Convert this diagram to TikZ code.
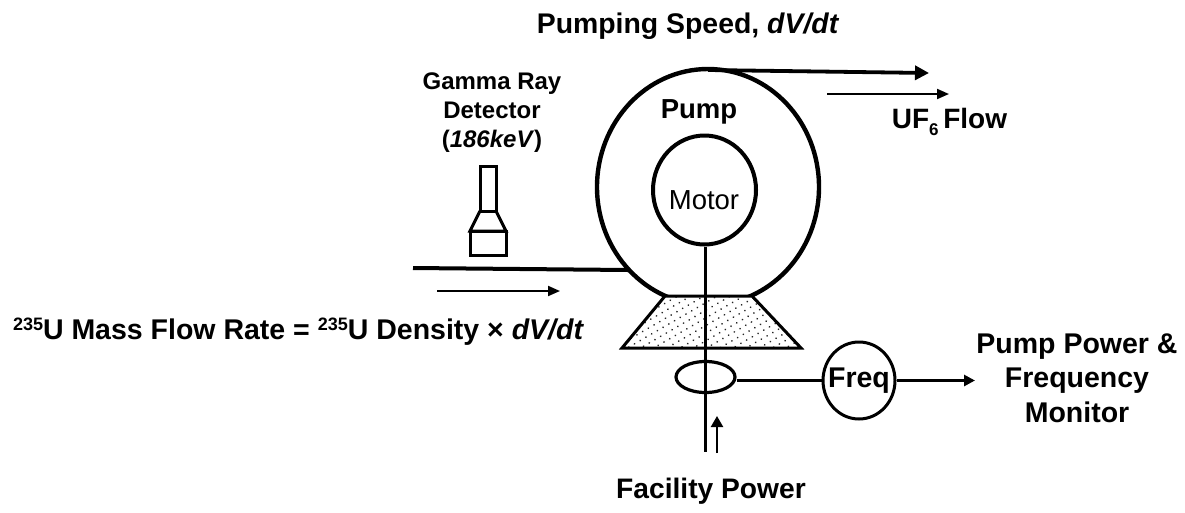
\documentclass[tikz,border=0pt]{standalone}
\usepackage{fontspec}
\setmainfont{Liberation Sans}
\usetikzlibrary{arrows.meta, patterns.meta, shapes.geometric}
\newcommand{\isoMark}{\raisebox{9pt}{\fontsize{18}{18}\selectfont 235}}
\tikzset{
  labelBold/.style={font=\fontsize{#1}{#1}\selectfont\bfseries, inner sep=0pt, align=center},
  ringNode/.style={draw, ellipse, inner sep=0pt},
  flowArrow/.style={-{Triangle[length=12pt, width=10pt]}, line width=2pt}
}

\begin{document}
\begin{tikzpicture}[x=1pt, y=-1pt]
                \useasboundingbox (0,0) rectangle (1185,512);
                
                % Pump body and outlet
                \node[ringNode, line width=4.4pt, minimum width=222pt, minimum height=236pt] (pump) at (708,187) {};
                \node[labelBold=27.5] (pumpLabel) at (699,112) {Pump};
                \coordinate (outletStart) at (708,70);
                \coordinate (outletEnd) at (929,73);
                \draw[-{Triangle[length=14pt, width=14pt]}, line width=3.8pt] (outletStart) -- (outletEnd);
                
                % Base under the pump
                \coordinate (baseA) at (665,296);
                \coordinate (baseB) at (752,296);
                \coordinate (baseC) at (801,348);
                \coordinate (baseD) at (622,348);
                \fill[white] (baseA) -- (baseB) -- (baseC) -- (baseD) -- cycle;
                \fill[pattern={Dots[distance=6.6pt, radius=0.95pt, angle=30]}, pattern color=black!85] (baseA) -- (baseB) -- (baseC) -- (baseD) -- cycle;
                \draw[line width=3pt, line join=miter] (baseA) -- (baseB) -- (baseC) -- (baseD) -- cycle;
                
                % Motor and power line
                \node[ringNode, fill=white, line width=4pt, minimum width=103pt, minimum height=109pt] (motor) at (704.5,190) {};
                \node[inner sep=0pt, font=\fontsize{27.5}{27.5}\selectfont] (motorLabel) at (704,200) {Motor};
                \coordinate (powerIn) at (705.5,452);
                \draw[line width=3.2pt] (powerIn |- motor.south) -- (powerIn);
                
                % Frequency pickup
                \node[ringNode, line width=3.2pt, minimum width=59pt, minimum height=31pt] (pickup) at (705.5,377) {};
                \node[ringNode, fill=white, line width=3pt, minimum width=72pt, minimum height=77pt] (freq) at (859,380.5) {};
                \node[labelBold=28.5] (freqLabel) at (859,381) {Freq};
                \coordinate (freqEnd) at (975,380.5);
                \draw[line width=3pt] (pickup.east |- freq.west) -- (freq.west);
                \draw[-{Triangle[length=11pt, width=11pt]}, line width=3pt] (freq.east) -- (freqEnd);
                \node[labelBold=28.5] (monitorLabel) at (1077,378) {Pump Power \&\\[6pt]Frequency\\[6pt]Monitor};
                
                % Facility side
                \coordinate (feedStart) at (717,453);
                \coordinate (feedEnd) at (717,416);
                \draw[-{Triangle[length=11pt, width=12pt]}, line width=2.2pt] (feedStart) -- (feedEnd);
                \node[labelBold=28.2] (facilityLabel) at (711,491) {Facility Power};
                
                % Inlet line
                \coordinate (inletStart) at (413,268);
                \coordinate (inletEnd) at (628,270);
                \draw[line width=4pt] (inletStart) -- (inletEnd);
                \coordinate (inflowStart) at (437,291);
                \coordinate (inflowEnd) at (560,291);
                \draw[flowArrow] (inflowStart) -- (inflowEnd);
                \node[labelBold=28.5] (massLabel) at (298.5,332) {\isoMark U Mass Flow Rate = \isoMark U Density × \textit{dV/dt}};
                
                % Gamma ray detector
                \coordinate (tubeA) at (480,166);
                \coordinate (tubeB) at (496,211);
                \coordinate (boxA) at (470,231);
                \coordinate (boxB) at (506,255);
                \draw[line width=3pt] (tubeA) rectangle (tubeB);
                \draw[line width=3pt] (tubeA |- tubeB) -- (boxA) -- (boxB |- boxA) -- (tubeB);
                \draw[line width=3pt] (boxA) rectangle (boxB);
                \node[labelBold=24] (detectorLabel) at (492,113) {Gamma Ray\\[5pt]Detector\\[5pt](\textit{186keV})};
                
                % Outlet labels
                \node[labelBold=28.4] (speedLabel) at (688,26) {Pumping Speed, \textit{dV/dt}};
                \coordinate (outflowStart) at (827,94);
                \coordinate (outflowEnd) at (949,94);
                \draw[flowArrow] (outflowStart) -- (outflowEnd);
                \node[labelBold=28] (flowLabel) at (949.5,122) {UF\raisebox{-7pt}{\fontsize{17}{17}\selectfont 6}\,Flow};
            \end{tikzpicture}
\end{document}
